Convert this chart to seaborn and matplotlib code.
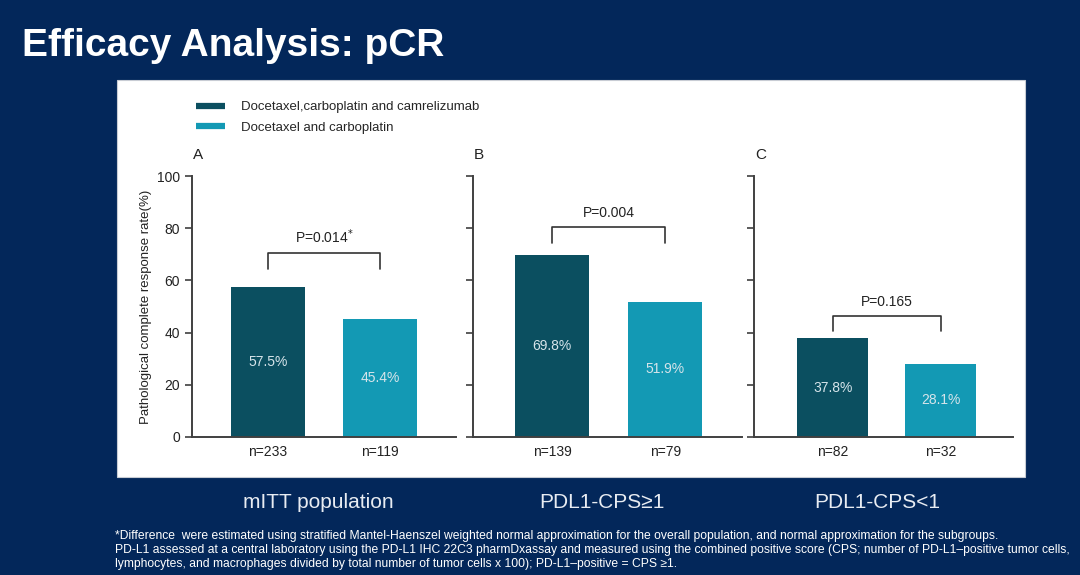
import matplotlib
matplotlib.use("Agg")
import matplotlib.pyplot as plt
from matplotlib.patches import Rectangle
from matplotlib.lines import Line2D
import seaborn as sns
import pandas as pd

# === Data ===
arms = ["Docetaxel,carboplatin and camrelizumab", "Docetaxel and carboplatin"]
panel_letters = ["A", "B", "C"]
populations = ["mITT population", "PDL1-CPS≥1", "PDL1-CPS<1"]
pcr_rates = [[57.5, 45.4], [69.8, 51.9], [37.8, 28.1]]
n_patients = [[233, 119], [139, 79], [82, 32]]
p_values = ["P=0.014$^{*}$", "P=0.004", "P=0.165"]
bracket_y = [70.5, 80.5, 46.5]
footnote = [
    "*Difference  were estimated using stratified Mantel-Haenszel weighted normal approximation for the overall population, and normal approximation for the subgroups.",
    "PD-L1 assessed at a central laboratory using the PD-L1 IHC 22C3 pharmDxassay and measured using the combined positive score (CPS; number of PD-L1\u2013positive tumor cells,",
    "lymphocytes, and macrophages divided by total number of tumor cells x 100); PD-L1\u2013positive = CPS \u22651.",
]

colors = ["#0b4f60", "#1399b4"]
navy = "#03275a"

sns.set_theme(style="white")
plt.rcParams['font.family'] = ['Liberation Sans', 'DejaVu Sans']

fig = plt.figure(figsize=(10.8, 5.75), dpi=100, facecolor=navy)

# white panel behind the charts
fig.patches.append(Rectangle((117 / 1080, 1 - 477 / 575), 908 / 1080, 397 / 575,
                             transform=fig.transFigure, facecolor="white",
                             edgecolor="#c8ccd4", lw=0.8, zorder=-5))

fig.text(22 / 1080, 1 - 46 / 575, "Efficacy Analysis: pCR", color="white",
         fontsize=28, fontweight="bold", va="center", ha="left")

# axes layout (left, width, xlim left) in pixels / data units
lefts = [192, 473, 754]
widths = [264, 269, 259]
xlims = [(-0.68, 1.68), (-0.70, 1.68), (-0.73, 1.67)]

for i in range(3):
    ax = fig.add_axes([lefts[i] / 1080, 1 - 437 / 575, widths[i] / 1080, 261 / 575])
    ax.set_facecolor("none")
    df = pd.DataFrame({"arm": arms, "rate": pcr_rates[i]})
    sns.barplot(data=df, x="arm", y="rate", hue="arm", palette=colors, saturation=1,
                width=0.66, linewidth=0, legend=False, ax=ax)
    ax.set_xlim(*xlims[i])
    ax.set_ylim(0, 100)
    ax.set_yticks([0, 20, 40, 60, 80, 100])
    if i == 0:
        ax.tick_params(axis="y", labelsize=10, labelcolor="#222222")
        ax.set_ylabel("Pathological complete response rate(%)", fontsize=9.5,
                      color="#222222", labelpad=4)
    else:
        ax.set_yticklabels([])
        ax.set_ylabel("")
    ax.set_xlabel("")
    ax.set_xticks([0, 1])
    ax.set_xticklabels([f"n={n}" for n in n_patients[i]], fontsize=10, color="#222222")
    ax.tick_params(axis="x", length=0, pad=6)
    ax.tick_params(axis="y", left=True, length=5, width=1.2, color="#404040", direction="out")
    sns.despine(ax=ax)
    for s in ["left", "bottom"]:
        ax.spines[s].set_color("#404040")
        ax.spines[s].set_linewidth(1.4)

    # value labels in the middle of the bars
    for j, v in enumerate(pcr_rates[i]):
        ax.text(j, v / 2, f"{v}%", ha="center", va="center", fontsize=10, color="#d6e4ea")

    # significance bracket
    by = bracket_y[i]
    ax.plot([0, 0, 1, 1], [by - 6, by, by, by - 6], color="#333333", lw=1.2, clip_on=False)
    ax.text(0.5, by + 2.5, p_values[i], ha="center", va="bottom", fontsize=10, color="#222222")

    ax.text(lefts[i] / 1080 + 0.001, 1 - 155 / 575, panel_letters[i], transform=fig.transFigure,
            fontsize=11, color="#222222", ha="left", va="center")

    fig.text((lefts[i] + widths[i] / 2 - 6) / 1080, 1 - 503 / 575, populations[i],
             color="#e8ecf2", fontsize=15, ha="center", va="center")

handles = [Line2D([0], [0], color=c, lw=4.5, solid_capstyle="butt") for c in colors]
fig.legend(handles, arms, loc="upper left", bbox_to_anchor=(196 / 1080, 1 - 101 / 575),
           frameon=False, fontsize=9.5, handlelength=2.2, handletextpad=1.2,
           labelspacing=0.65, borderaxespad=0, borderpad=0)

for k, line in enumerate(footnote):
    fig.text(115 / 1080, 1 - (536 + 14 * k) / 575, line, color="white", fontsize=8.7,
             ha="left", va="center")

fig.savefig("out.png", dpi=100, facecolor=fig.get_facecolor())
